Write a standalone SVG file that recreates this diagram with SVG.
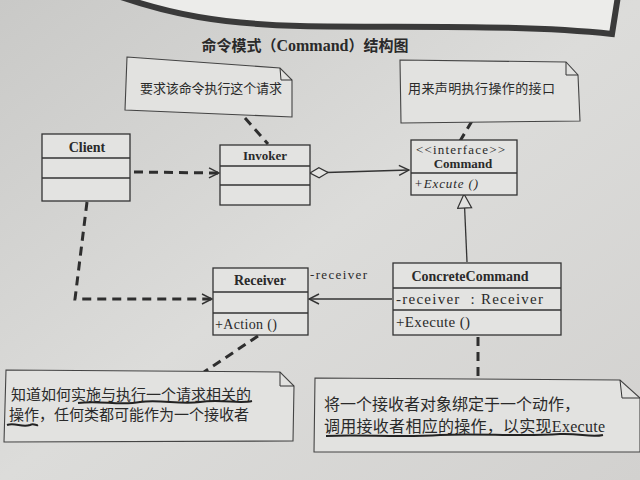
<svg xmlns="http://www.w3.org/2000/svg" width="640" height="480" viewBox="0 0 640 480">
<defs>
<linearGradient id="paper" x1="0" y1="0" x2="1" y2="1">
<stop offset="0" stop-color="#c9c9c7"/>
<stop offset="0.5" stop-color="#dcdcda"/>
<stop offset="1" stop-color="#d2d1cf"/>
</linearGradient>
<marker id="open" viewBox="0 0 12 12" refX="11" refY="6" markerWidth="12" markerHeight="12" markerUnits="userSpaceOnUse" orient="auto">
<path d="M1,1 L11,6 L1,11" fill="none" stroke="#333" stroke-width="1.4"/>
</marker>
<marker id="diamond" viewBox="0 0 20 12" refX="1" refY="6" markerWidth="20" markerHeight="12" markerUnits="userSpaceOnUse" orient="auto">
<path d="M1,6 L10,1 L19,6 L10,11 Z" fill="#e4e4e2" stroke="#333" stroke-width="1.2"/>
</marker>
<marker id="tri" viewBox="0 0 16 16" refX="15" refY="8" markerWidth="16" markerHeight="16" markerUnits="userSpaceOnUse" orient="auto">
<path d="M1,1 L15,8 L1,15 Z" fill="#e2e2e0" stroke="#333" stroke-width="1.2"/>
</marker>
</defs>
<style>
.box{fill:#e3e3e1;stroke:#333;stroke-width:1.3}
.ln{stroke:#333;stroke-width:1.3;fill:none}
.dash{stroke:#2e2e2e;stroke-width:3;stroke-dasharray:9,6;fill:none}
.note{fill:#e2e2e0;stroke:#444;stroke-width:1.1}
.name{font-family:"Liberation Serif",serif;font-weight:bold;font-size:14px;fill:#2a2a2a;text-anchor:middle}
.mono{font-family:"Liberation Serif",serif;font-size:14px;fill:#2a2a2a}
.cn{font-family:"Noto Sans CJK SC","Noto Sans CJK JP",sans-serif;font-size:13px;fill:#2a2a2a}
.cnb{font-family:"Noto Sans CJK SC","Noto Sans CJK JP",sans-serif;font-size:15px;fill:#2a2a2a}
.wavy{fill:none;stroke:#222;stroke-width:2}
</style>
<rect width="640" height="480" fill="url(#paper)"/>
<path d="M118,-4 C170,14 220,24 300,26 C400,28 520,24 612,34 L618,-4 Z" fill="#ececea" stroke="#3a3a3a" stroke-width="6"/>
<text x="305" y="51" class="name" style="font-size:16px"><tspan class="cn" style="font-weight:bold;font-size:15px">命令模式（</tspan>Command<tspan class="cn" style="font-weight:bold;font-size:15px">）结构图</tspan></text>

<g id="connectors">
<path class="dash" d="M245,118 L268,144"/>
<path class="dash" d="M472,121 L460,141"/>
<path class="dash" d="M134,172 L219,173" marker-end="url(#open)"/>
<path class="ln" d="M310,173 L409,170" marker-start="url(#diamond)" marker-end="url(#open)"/>
<path class="ln" d="M467,262 L464,194" marker-end="url(#tri)"/>
<path class="dash" d="M87,202 L75,299 L212,299" marker-end="url(#open)"/>
<path class="ln" d="M392,299 L309,299" marker-end="url(#open)"/>
<path class="dash" d="M258,336 L204,372"/>
<path class="dash" d="M478,337 L478,378"/>
<text x="310" y="279" class="mono" textLength="57" style="font-size:13px">-receiver</text>
</g>

<g id="note1">
<path class="note" d="M127,57 L280,68 L292,80 L292,117 L125,110 Z"/>
<path class="ln" d="M280,68 L281,80 L292,80" style="stroke-width:1"/>
<text x="140" y="93" class="cn" textLength="142">要求该命令执行这个请求</text>
</g>

<g id="note2">
<path class="note" d="M400,60 L566,62 L578,75 L580,121 L401,123 Z"/>
<path class="ln" d="M566,62 L566,75 L578,75" style="stroke-width:1"/>
<text x="408" y="93" class="cn" textLength="147">用来声明执行操作的接口</text>
</g>

<g id="client">
<rect class="box" x="42" y="134" width="88" height="67"/>
<line class="ln" x1="42" y1="158" x2="130" y2="158"/>
<line class="ln" x1="42" y1="178" x2="130" y2="178"/>
<text x="87" y="152" class="name">Client</text>
</g>

<g id="invoker">
<rect class="box" x="220" y="145" width="90" height="60"/>
<line class="ln" x1="220" y1="166" x2="310" y2="166"/>
<line class="ln" x1="220" y1="185" x2="310" y2="185"/>
<text x="265" y="160" class="name" style="font-size:13px">Invoker</text>
</g>

<g id="command">
<rect class="box" x="411" y="140" width="106" height="55"/>
<line class="ln" x1="411" y1="173" x2="517" y2="173"/>
<text x="416" y="154" class="mono" textLength="89" style="font-size:13px">&lt;&lt;interface&gt;&gt;</text>
<text x="463" y="168" class="name" style="font-size:13px">Command</text>
<text x="414" y="188" class="mono" font-style="italic" textLength="64" style="font-size:13px">+Excute ()</text>
</g>

<g id="receiver">
<rect class="box" x="213" y="268" width="95" height="67"/>
<line class="ln" x1="213" y1="292" x2="308" y2="292"/>
<line class="ln" x1="213" y1="313" x2="308" y2="313"/>
<text x="260" y="285" class="name">Receiver</text>
<text x="215" y="329" class="mono" textLength="62">+Action ()</text>
</g>

<g id="concretecommand">
<rect class="box" x="393" y="263" width="168" height="72"/>
<line class="ln" x1="393" y1="288" x2="561" y2="288"/>
<line class="ln" x1="393" y1="310" x2="561" y2="310"/>
<text x="470" y="281" class="name">ConcreteCommand</text>
<text x="396" y="304" class="mono" xml:space="preserve" textLength="147" style="font-size:15px">-receiver  : Receiver</text>
<text x="396" y="327" class="mono" textLength="74" style="font-size:15px">+Execute ()</text>
</g>

<g id="note3">
<path class="note" d="M6,370 L280,372 L294,386 L293,441 L4,442 Z"/>
<path class="ln" d="M280,372 L280,386 L294,386" style="stroke-width:1"/>
<text x="11" y="400" class="cnb" textLength="240">知道如何实施与执行一个请求相关的</text>
<text x="9" y="420" class="cnb" textLength="240">操作，任何类都可能作为一个接收者</text>
<path class="wavy" d="M78,403 C100,400 120,406 140,402 C160,399 180,405 200,402 C220,399 240,404 252,401"/>
<path class="wavy" d="M7,425 C15,422 22,428 30,425 C34,423 36,426 38,425"/>
</g>

<g id="note4">
<path class="note" d="M315,378 L620,380 L640,398 L640,452 L314,452 Z"/>
<path class="ln" d="M620,380 L622,398 L640,398" style="stroke-width:1"/>
<text x="324" y="410" class="cnb" textLength="256" style="font-size:16px">将一个接收者对象绑定于一个动作，</text>
<text x="324" y="432" class="cnb" textLength="281" style="font-size:16px">调用接收者相应的操作，以实现<tspan style="font-family:'Liberation Serif',serif">Execute</tspan></text>
<path class="wavy" d="M326,436 C360,434 400,438 440,435 C480,433 520,437 560,434 C580,433 590,438 603,435"/>
</g>
</svg>
